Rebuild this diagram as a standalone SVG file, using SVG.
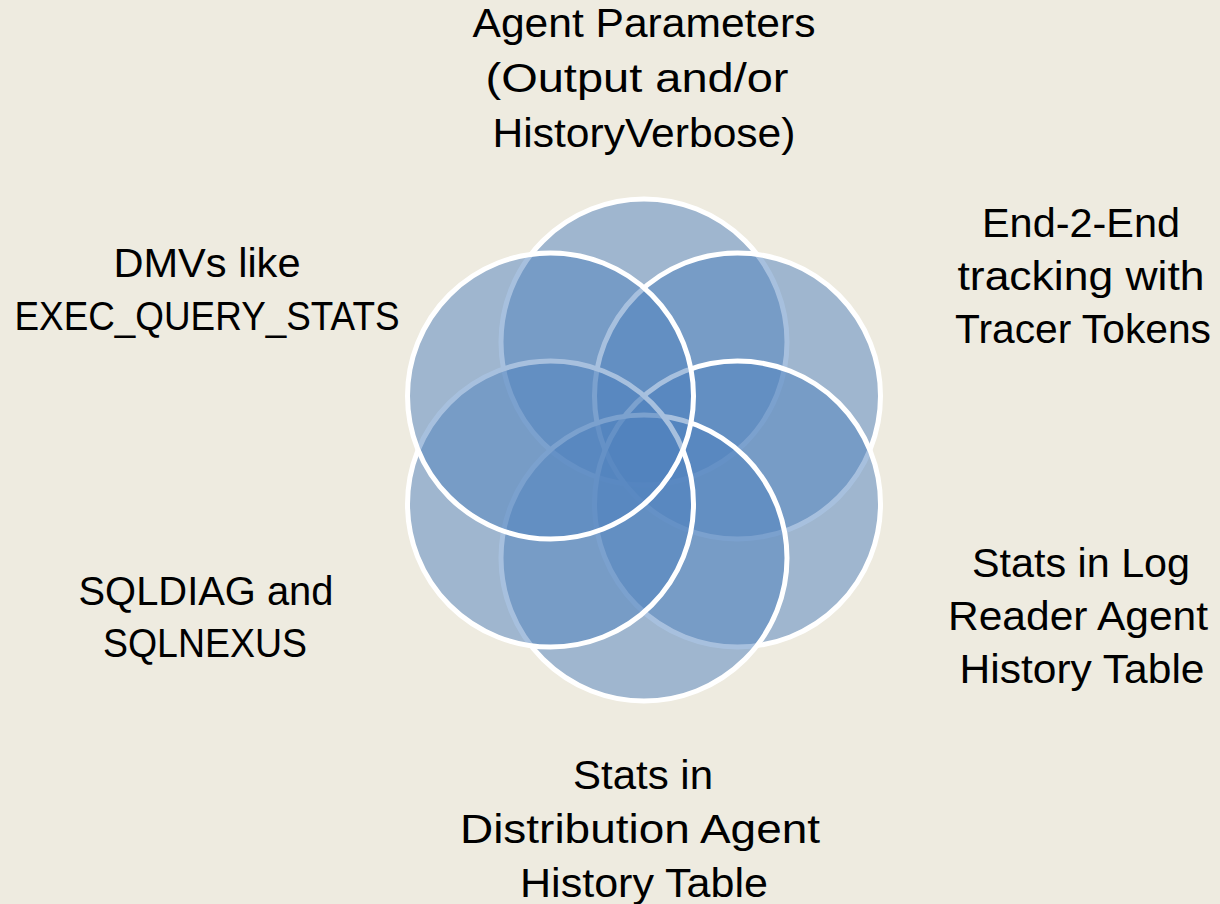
<svg xmlns="http://www.w3.org/2000/svg" width="1220" height="904" viewBox="0 0 1220 904">
  <style>
    .ring { fill: #4f81bd; fill-opacity: 0.5; stroke: #ffffff; stroke-width: 5; }
    .lbl { font-family: "Liberation Sans", Arial, sans-serif; font-size: 40px; fill: #000000; text-anchor: middle; }
  </style>
  <rect x="0" y="0" width="1220" height="904" fill="#eeebe0"/>
  <g id="connectors"/>
  <g id="node-agent-parameters">
    <circle class="ring" cx="644" cy="342" r="143"/>
    <text class="lbl">
      <tspan x="644" y="37" textLength="343" lengthAdjust="spacingAndGlyphs">Agent Parameters</tspan>
    </text>
    <text class="lbl">
      <tspan x="637" y="92" textLength="303" lengthAdjust="spacingAndGlyphs">(Output and/or</tspan>
    </text>
    <text class="lbl">
      <tspan x="644" y="147" textLength="303" lengthAdjust="spacingAndGlyphs">HistoryVerbose)</tspan>
    </text>
  </g>
  <g id="node-tracer-tokens">
    <circle class="ring" cx="737.5" cy="396" r="143"/>
    <text class="lbl" x="1081" y="237" textLength="198" lengthAdjust="spacingAndGlyphs">End-2-End</text>
    <text class="lbl" x="1081" y="290" textLength="247" lengthAdjust="spacingAndGlyphs">tracking with</text>
    <text class="lbl" x="1083" y="343" textLength="256" lengthAdjust="spacingAndGlyphs">Tracer Tokens</text>
  </g>
  <g id="node-log-reader">
    <circle class="ring" cx="737.5" cy="504" r="143"/>
    <text class="lbl" x="1081" y="577" textLength="218" lengthAdjust="spacingAndGlyphs">Stats in Log</text>
    <text class="lbl" x="1078" y="630" textLength="260" lengthAdjust="spacingAndGlyphs">Reader Agent</text>
    <text class="lbl" x="1082" y="683" textLength="245" lengthAdjust="spacingAndGlyphs">History Table</text>
  </g>
  <g id="node-distribution">
    <circle class="ring" cx="644" cy="558" r="143"/>
    <text class="lbl" x="643" y="789" textLength="140" lengthAdjust="spacingAndGlyphs">Stats in</text>
    <text class="lbl" x="640" y="843" textLength="360" lengthAdjust="spacingAndGlyphs">Distribution Agent</text>
    <text class="lbl" x="644" y="897" textLength="248" lengthAdjust="spacingAndGlyphs">History Table</text>
  </g>
  <g id="node-sqldiag">
    <circle class="ring" cx="550.5" cy="504" r="143"/>
    <text class="lbl" x="206" y="605" textLength="255" lengthAdjust="spacingAndGlyphs">SQLDIAG and</text>
    <text class="lbl" x="205" y="657" textLength="204" lengthAdjust="spacingAndGlyphs">SQLNEXUS</text>
  </g>
  <g id="node-dmvs">
    <circle class="ring" cx="550.5" cy="396" r="143"/>
    <text class="lbl" x="207" y="277" textLength="187" lengthAdjust="spacingAndGlyphs">DMVs like</text>
    <text class="lbl" x="207" y="330" textLength="385" lengthAdjust="spacingAndGlyphs">EXEC_QUERY_STATS</text>
  </g>
</svg>
